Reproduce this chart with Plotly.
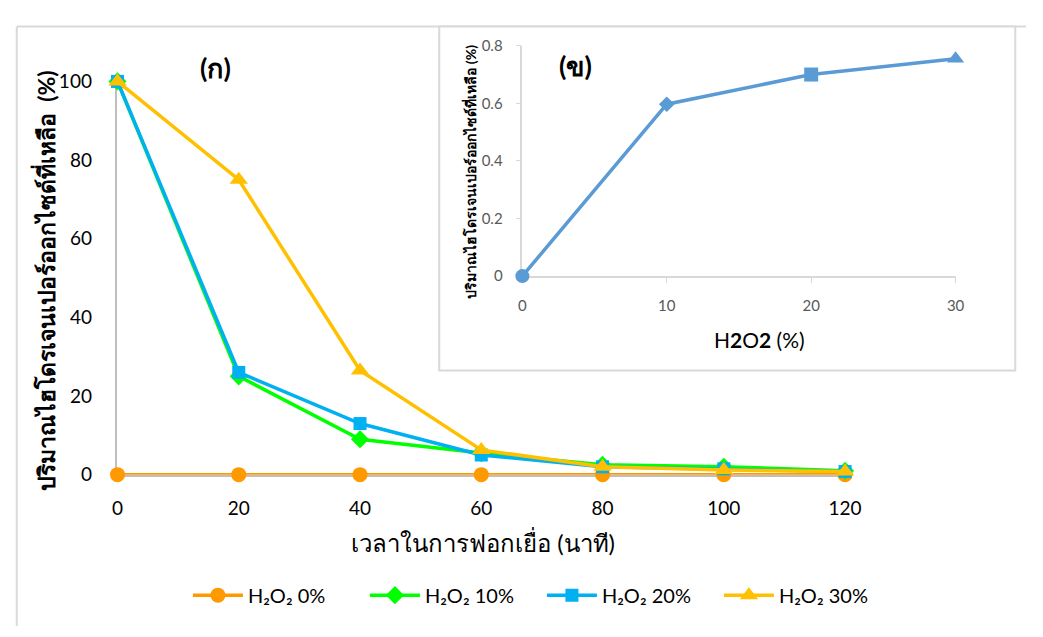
import plotly.graph_objects as go

# ---- data ----
time_min = [0, 20, 40, 60, 80, 100, 120]
h2o2_0 = [0, 0, 0, 0, 0, 0, 0]
h2o2_10 = [100, 25, 9, 5.5, 2.5, 2, 1]
h2o2_20 = [100, 26, 13, 5, 2, 1.5, 0.8]
h2o2_30 = [100, 75, 26.5, 6.3, 2, 1.2, 0.8]
series_names = ["H₂O₂ 0%", "H₂O₂ 10%", "H₂O₂ 20%", "H₂O₂ 30%"]

inset_conc = [0, 10, 20, 30]
inset_remaining = [0, 0.597, 0.70, 0.755]

x_ticks = [0, 20, 40, 60, 80, 100, 120]
y_ticks = [0, 20, 40, 60, 80, 100]
inset_x_ticks = [0, 10, 20, 30]
inset_y_ticks = [0, 0.2, 0.4, 0.6, 0.8]
inset_y_ticklabels = ["0", "0.2", "0.4", "0.6", "0.8"]

W, H = 1043, 637
def px(x):
    return x / W
def py(y):
    return 1 - y / H

colors = ["#FF9900", "#00FF00", "#00B0F0", "#FFC000"]
symbols = ["circle", "diamond", "square", "triangle-up"]
msizes = [15, 14, 13, 16]
main_font = "Lato, 'Noto Sans', sans-serif"

fig = go.Figure()
for name, vals, c, s, ms in zip(series_names, [h2o2_0, h2o2_10, h2o2_20, h2o2_30], colors, symbols, msizes):
    fig.add_trace(go.Scatter(
        x=time_min, y=vals, name=name, mode="lines+markers",
        line=dict(color=c, width=3.5),
        marker=dict(symbol=s, size=ms, color=c, line=dict(width=0), opacity=1),
        cliponaxis=False, xaxis="x", yaxis="y",
    ))

inset_symbols = ["circle", "diamond", "square", "triangle-up"]
fig.add_trace(go.Scatter(
    x=inset_conc, y=inset_remaining, mode="lines+markers", showlegend=False,
    line=dict(color="#5B9BD5", width=3.5),
    marker=dict(symbol=inset_symbols, size=[14, 12, 14, 15], color="#5B9BD5",
                line=dict(width=0), opacity=1),
    cliponaxis=False, xaxis="x2", yaxis="y2",
))

shapes = [
    dict(type="line", xref="paper", yref="paper", x0=px(11), x1=px(1043), y0=py(15), y1=py(15),
         line=dict(color="#D9D9D9", width=2), layer="below"),
    dict(type="line", xref="paper", yref="paper", x0=px(11), x1=px(11), y0=py(15), y1=py(637),
         line=dict(color="#D9D9D9", width=2), layer="below"),
    dict(type="rect", xref="paper", yref="paper", x0=px(443), x1=px(1032), y0=py(372), y1=py(15),
         line=dict(color="#D9D9D9", width=2), fillcolor="white", layer="below"),
]

annotations = [
    dict(text="<b>ปริมาณไฮโดรเจนเปอร์ออกไซด์ที่เหลือ  (%)</b>", x=px(40), y=py(279), xref="paper", yref="paper",
         textangle=-90, showarrow=False, font=dict(size=23, color="#000000", family=main_font),
         xanchor="center", yanchor="middle"),
    dict(text="เวลาในการฟอกเยื่อ (นาที)", x=px(488), y=py(550), xref="paper", yref="paper",
         showarrow=False, font=dict(size=24, color="#000000", family=main_font),
         xanchor="center", yanchor="middle"),
    dict(text="<b>(ก)</b>", x=px(214), y=py(58), xref="paper", yref="paper",
         showarrow=False, font=dict(size=27, color="#000000", family=main_font),
         xanchor="center", yanchor="middle"),
    dict(text="<b>(ข)</b>", x=px(582), y=py(56), xref="paper", yref="paper",
         showarrow=False, font=dict(size=27, color="#000000", family=main_font),
         xanchor="center", yanchor="middle"),
    dict(text="<b>ปริมาณไฮโดรเจนเปอร์ออกไซด์ที่เหลือ (%)</b>", x=px(474), y=py(166), xref="paper", yref="paper",
         textangle=-90, showarrow=False, font=dict(size=14, color="#000000", family=main_font),
         xanchor="center", yanchor="middle"),
    dict(text="H<b>2</b>O<b>2</b> (%)", x=px(770), y=py(340), xref="paper", yref="paper",
         showarrow=False, font=dict(size=21, color="#000000", family=main_font),
         xanchor="center", yanchor="middle"),
]

fig.update_layout(
    width=W, height=H,
    margin=dict(l=0, r=0, t=0, b=0),
    paper_bgcolor="white", plot_bgcolor="rgba(0,0,0,0)",
    shapes=shapes, annotations=annotations,
    font=dict(family=main_font, color="#000000"),
    xaxis=dict(domain=[px(114), px(858)], range=[0, 120], tickvals=x_ticks,
               showgrid=False, zeroline=False, showline=True, linecolor="#BFBFBF", linewidth=1.5,
               layer="below traces",
               ticks="", ticklabelstandoff=16, tickfont=dict(size=19, color="#000000")),
    yaxis=dict(domain=[py(480), py(72)], range=[0, 100], tickvals=y_ticks,
               showgrid=False, zeroline=False, showline=True, linecolor="#BFBFBF", linewidth=1.5,
               layer="below traces",
               ticks="", ticklabelstandoff=20, tickfont=dict(size=19, color="#000000")),
    xaxis2=dict(domain=[px(528), px(971)], range=[0, 30], tickvals=inset_x_ticks, anchor="y2",
                showgrid=False, zeroline=False, showline=True, linecolor="#D9D9D9", linewidth=1.5,
                layer="below traces",
                ticks="outside", ticklen=5, tickcolor="#D9D9D9", ticklabelstandoff=10,
                tickfont=dict(size=15, color="#595959")),
    yaxis2=dict(domain=[py(274), py(35)], range=[0, 0.8], tickvals=inset_y_ticks,
                ticktext=inset_y_ticklabels, anchor="x2",
                showgrid=False, zeroline=False, showline=True, linecolor="#D9D9D9", linewidth=1.5,
                layer="below traces",
                ticks="outside", ticklen=5, tickcolor="#D9D9D9", ticklabelstandoff=10,
                tickfont=dict(size=15, color="#595959")),
    legend=dict(orientation="h", x=px(548), xanchor="center", y=py(605), yanchor="middle",
                font=dict(size=20, color="#000000", family=main_font),
                itemwidth=50, entrywidth=112, bgcolor="rgba(0,0,0,0)"),
)

fig.write_html(
    "out.html",
    post_script="document.body.style.margin='0';document.body.style.overflow='hidden';",
)
